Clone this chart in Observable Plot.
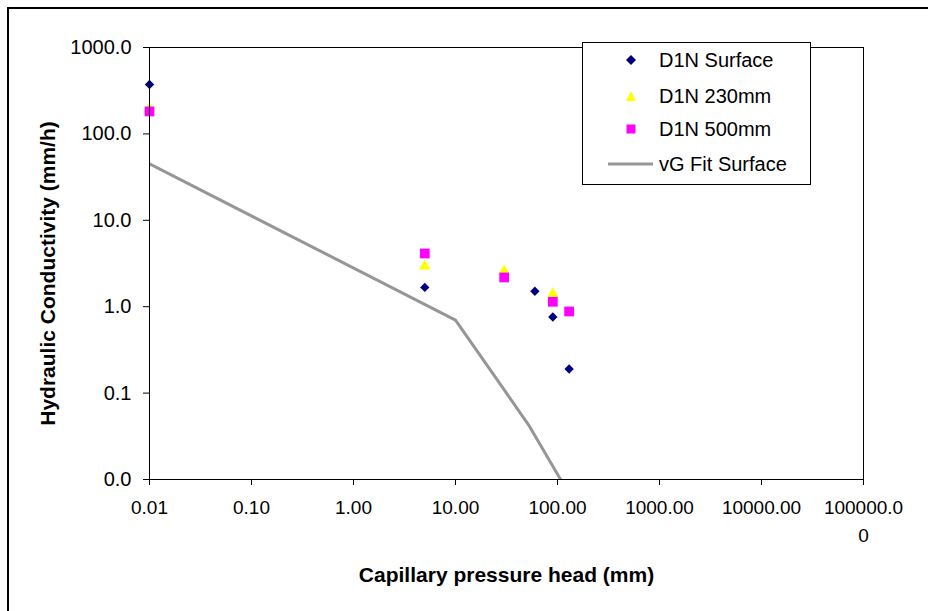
<!DOCTYPE html>
<html><head><meta charset="utf-8">
<script src="https://cdn.jsdelivr.net/npm/d3@7"></script>
<script src="https://cdn.jsdelivr.net/npm/@observablehq/plot@0.6"></script>
<style>
body{margin:0;background:#fff;font-family:"Liberation Sans",Arial,sans-serif;}
#wrap{position:relative;width:928px;height:611px;overflow:hidden;background:#fff;}
#outer{position:absolute;left:7px;top:7px;width:960px;height:640px;border-top:2px solid #000;border-left:2px solid #000;pointer-events:none;}
#chart{position:absolute;left:0;top:0;}
#legend{position:absolute;left:582px;top:42px;width:227px;height:141px;border:1px solid #000;background:#fff;}
.row{position:absolute;left:0;width:227px;height:24px;}
.row svg{position:absolute;left:20px;top:0;}
.row span{position:absolute;left:76px;top:0;line-height:24px;font-size:20px;color:#000;white-space:nowrap;}
</style>
</head><body>
<div id="wrap"><div id="chart"></div><div id="outer"></div><div id="legend"></div></div>
<script>
// Data
const surfaceX = [0.01, 5, 60, 90, 130];
const surfaceY = [373, 1.67, 1.51, 0.76, 0.19];
const d230X = [0.01, 5, 30, 90];
const d230Y = [197, 2.94, 2.58, 1.41];
const d500X = [0.01, 5, 30, 90, 130];
const d500Y = [182, 4.13, 2.18, 1.14, 0.88];
const fitX = [0.01, 10, 52, 110];
const fitY = [45, 0.70, 0.043, 0.0095];
const seriesNames = ["D1N Surface", "D1N 230mm", "D1N 500mm", "vG Fit Surface"];
const xTicks = [0.01, 0.1, 1, 10, 100, 1000, 10000, 100000];
const xTickLabels = ["0.01", "0.10", "1.00", "10.00", "100.00", "1000.00", "10000.00", "100000.0\n0"];
const yTicks = [1000, 100, 10, 1, 0.1, 0.01];
const yTickLabels = ["1000.0", "100.0", "10.0", "1.0", "0.1", "0.0"];
const xTitle = "Capillary pressure head (mm)";
const yTitle = "Hydraulic Conductivity (mm/h)";

const zip = (xs, ys) => xs.map((x, i) => ({x, y: ys[i]}));
const surface = zip(surfaceX, surfaceY);
const d230 = zip(d230X, d230Y);
const d500 = zip(d500X, d500Y);
const fit = zip(fitX, fitY);

const plot = Plot.plot({
  width: 928, height: 611,
  marginLeft: 149, marginRight: 65, marginTop: 47, marginBottom: 132,
  style: {fontFamily: "'Liberation Sans', Arial, sans-serif", fontSize: "19px", color: "#000", background: "transparent"},
  x: {type: "log", domain: [0.01, 100000]},
  y: {type: "log", domain: [0.01, 1000]},
  marks: [
    Plot.axisY({ticks: yTicks, tickFormat: d => yTickLabels[yTicks.indexOf(d)], tickSize: 6, tickPadding: 12, label: null, fontSize: 20}),
    Plot.axisX({ticks: xTicks, tickFormat: d => xTickLabels[xTicks.indexOf(d)], tickSize: 6, tickPadding: 9, label: null, fontSize: 19, lineHeight: 1.45}),
    Plot.line(fit, {x: "x", y: "y", stroke: "#969696", strokeWidth: 3, clip: true}),
    Plot.dot(surface, {x: "x", y: "y", symbol: "diamond2", r: 4.2, fill: "#000080", stroke: "none"}),
    Plot.dot(d230, {x: "x", y: "y", symbol: "triangle", r: 4.3, fill: "#ffff00", stroke: "none"}),
    Plot.dot(d500, {x: "x", y: "y", symbol: "square", r: 5.5, fill: "#ff00ff", stroke: "none"}),
    Plot.frame({stroke: "#000"}),
    Plot.text([xTitle], {frameAnchor: "bottom", dy: 102, fontWeight: "bold", fontSize: 21}),
    Plot.text([yTitle], {frameAnchor: "left", textAnchor: "middle", dx: -101, dy: 10, rotate: -90, fontWeight: "bold", fontSize: 21})
  ]
});
document.getElementById("chart").appendChild(plot);

// Legend
const legend = document.getElementById("legend");
const rowTops = [5, 41, 74, 109];
const symbols = [
  '<svg width="50" height="24"><polygon points="28,7 33,12 28,17 23,12" fill="#000080"/></svg>',
  '<svg width="50" height="24"><polygon points="28,7 33,17 23,17" fill="#ffff00"/></svg>',
  '<svg width="50" height="24"><rect x="23.5" y="7.5" width="9" height="9" fill="#ff00ff"/></svg>',
  '<svg width="50" height="24"><line x1="5" y1="12" x2="51" y2="12" stroke="#969696" stroke-width="3"/></svg>'
];
seriesNames.forEach((name, i) => {
  const row = document.createElement("div");
  row.className = "row";
  row.style.top = rowTops[i] + "px";
  row.innerHTML = symbols[i] + "<span></span>";
  row.querySelector("span").textContent = name;
  legend.appendChild(row);
});
</script>
</body></html>
